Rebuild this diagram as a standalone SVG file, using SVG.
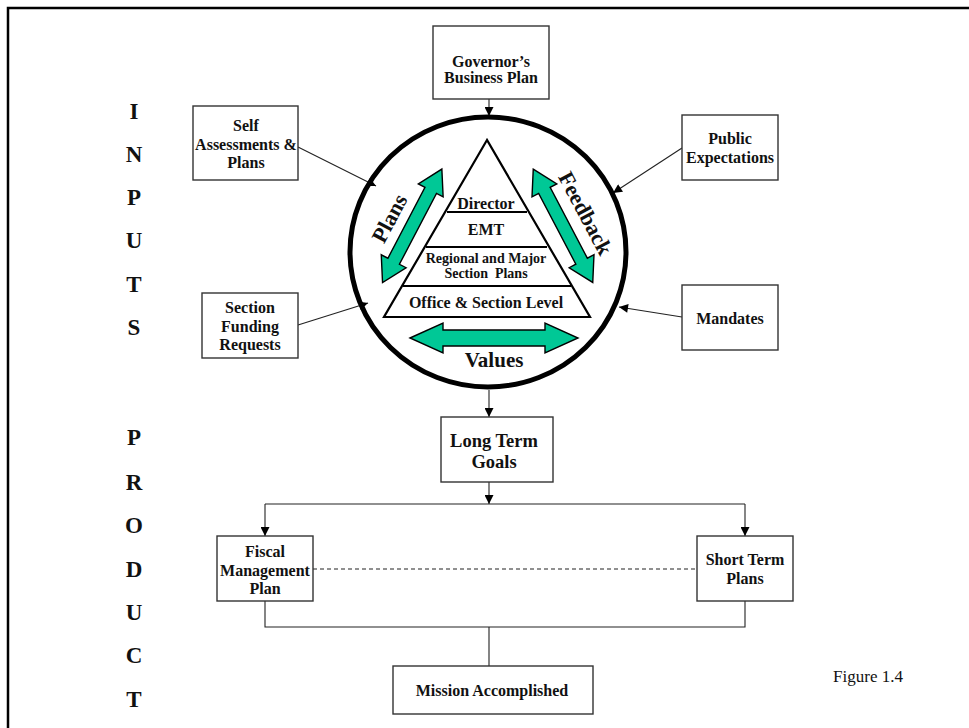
<svg xmlns="http://www.w3.org/2000/svg" width="969" height="728" viewBox="0 0 969 728">
  <style>
    .box { fill: #fff; stroke: #333; stroke-width: 1.4; }
    .t { font-family: "Liberation Serif", "Times New Roman", serif; font-weight: bold; fill: #111; text-anchor: middle; }
    .t16 { font-size: 16px; }
    .t14 { font-size: 14px; }
    .big { font-size: 22px; }
    .side { font-family: "Liberation Serif", "Times New Roman", serif; font-weight: bold; font-size: 23px; fill: #111; text-anchor: middle; }
    .con { fill: none; stroke: #222; stroke-width: 1.1; }
    .tier { stroke: #000; stroke-width: 2.2; }
    .green { fill: #00C896; stroke: #000; stroke-width: 1.4; stroke-linejoin: miter; }
  </style>
  <defs>
    <marker id="ah" viewBox="0 0 10 10" refX="10" refY="5" markerWidth="10" markerHeight="9" markerUnits="userSpaceOnUse" orient="auto">
      <path d="M0,0 L10,5 L0,10 z" fill="#000"/>
    </marker>
    <path id="dbl" d="M-64,0 L-40,-14 L-40,-6.5 L40,-6.5 L40,-14 L64,0 L40,14 L40,6.5 L-40,6.5 L-40,14 Z"/>
    <path id="dblWide" d="M-84,0 L-51,-15 L-51,-8 L51,-8 L51,-15 L84,0 L51,15 L51,8 L-51,8 L-51,15 Z"/>
  </defs>

  <rect width="969" height="728" fill="#fff"/>

  <!-- page frame, open to the right and bottom -->
  <path d="M8,730 L8,8 L971,8" fill="none" stroke="#000" stroke-width="2.5"/>

  <!-- side captions -->
  <g id="inputs-label" class="side">
    <text x="134" y="119">I</text>
    <text x="134" y="162">N</text>
    <text x="134" y="205">P</text>
    <text x="134" y="248">U</text>
    <text x="134" y="292">T</text>
    <text x="134" y="335">S</text>
  </g>
  <g id="product-label" class="side">
    <text x="134" y="445">P</text>
    <text x="134" y="490">R</text>
    <text x="134" y="533">O</text>
    <text x="134" y="577">D</text>
    <text x="134" y="620">U</text>
    <text x="134" y="663">C</text>
    <text x="134" y="707">T</text>
  </g>

  <!-- connectors -->
  <g id="connectors">
    <line class="con" x1="489" y1="99" x2="489" y2="116" marker-end="url(#ah)"/>
    <line class="con" x1="298" y1="147" x2="376" y2="186" marker-end="url(#ah)"/>
    <line class="con" x1="682" y1="148" x2="613" y2="193" marker-end="url(#ah)"/>
    <line class="con" x1="298" y1="325" x2="368" y2="303" marker-end="url(#ah)"/>
    <line class="con" x1="682" y1="317" x2="619" y2="307" marker-end="url(#ah)"/>
    <line class="con" x1="489" y1="390" x2="489" y2="417" marker-end="url(#ah)"/>
    <line class="con" x1="489" y1="482" x2="489" y2="504" marker-end="url(#ah)"/>
    <line class="con" x1="265" y1="504" x2="745" y2="504"/>
    <line class="con" x1="265" y1="504" x2="265" y2="536" marker-end="url(#ah)"/>
    <line class="con" x1="745" y1="504" x2="745" y2="536" marker-end="url(#ah)"/>
    <line class="con" x1="313" y1="569" x2="697" y2="569" stroke-dasharray="4 3" stroke="#555"/>
    <path class="con" d="M265,601 L265,627 L745,627 L745,601 M489,627 L489,666"/>
  </g>

  <!-- central planning cycle -->
  <g id="cycle">
    <ellipse cx="488" cy="252" rx="138" ry="135" fill="none" stroke="#000" stroke-width="5"/>
    <path d="M487,140 L384,317 L590,317 Z" fill="#fff" stroke="#000" stroke-width="2.2"/>
    <line class="tier" x1="447" y1="212" x2="527" y2="212"/>
    <line class="tier" x1="426" y1="247" x2="547" y2="247"/>
    <line class="tier" x1="403" y1="286" x2="571" y2="286"/>
    <text class="t t16" x="486" y="209">Director</text>
    <text class="t t16" x="486" y="235">EMT</text>
    <text class="t t14" x="486" y="263">Regional and Major</text>
    <text class="t t14" x="486" y="278" xml:space="preserve">Section  Plans</text>
    <text class="t t16" x="486" y="308">Office &amp; Section Level</text>
    <use href="#dbl" class="green" transform="translate(412.2,225.8) rotate(-62.4)"/>
    <use href="#dbl" class="green" transform="translate(563,225.8) rotate(62.3)"/>
    <use href="#dblWide" class="green" transform="translate(494,338)"/>
    <text class="t big" transform="translate(389,218) rotate(-62)" y="8">Plans</text>
    <text class="t big" transform="translate(586,213) rotate(62)" y="8">Feedback</text>
    <text class="t" x="494" y="367" font-size="21">Values</text>
  </g>

  <!-- input boxes -->
  <g id="governor">
    <rect class="box" x="433" y="26" width="116" height="73"/>
    <text class="t t16" x="491" y="67">Governor’s</text>
    <text class="t t16" x="491" y="83">Business Plan</text>
  </g>
  <g id="self-assessments">
    <rect class="box" x="193" y="106" width="105" height="74"/>
    <text class="t t16" x="246" y="131">Self</text>
    <text class="t t16" x="246" y="150">Assessments &amp;</text>
    <text class="t t16" x="246" y="168">Plans</text>
  </g>
  <g id="public-expectations">
    <rect class="box" x="682" y="115" width="96" height="65"/>
    <text class="t t16" x="730" y="144">Public</text>
    <text class="t t16" x="730" y="163">Expectations</text>
  </g>
  <g id="section-funding">
    <rect class="box" x="202" y="293" width="96" height="65"/>
    <text class="t t16" x="250" y="313">Section</text>
    <text class="t t16" x="250" y="332">Funding</text>
    <text class="t t16" x="250" y="350">Requests</text>
  </g>
  <g id="mandates">
    <rect class="box" x="682" y="285" width="96" height="65"/>
    <text class="t t16" x="730" y="324">Mandates</text>
  </g>

  <!-- product boxes -->
  <g id="long-term-goals">
    <rect class="box" x="441" y="417" width="112" height="65"/>
    <text class="t" x="494" y="447" font-size="18.5">Long Term</text>
    <text class="t" x="494" y="468" font-size="18.5">Goals</text>
  </g>
  <g id="fiscal-plan">
    <rect class="box" x="217" y="536" width="96" height="65"/>
    <text class="t t16" x="265" y="557">Fiscal</text>
    <text class="t t16" x="265" y="576">Management</text>
    <text class="t t16" x="265" y="594">Plan</text>
  </g>
  <g id="short-term-plans">
    <rect class="box" x="697" y="536" width="96" height="65"/>
    <text class="t t16" x="745" y="565">Short Term</text>
    <text class="t t16" x="745" y="584">Plans</text>
  </g>
  <g id="mission">
    <rect class="box" x="393" y="666" width="200" height="48"/>
    <text class="t t16" x="492" y="696">Mission Accomplished</text>
  </g>

  <text x="868" y="682" font-family="'Liberation Serif', 'Times New Roman', serif" font-size="17" fill="#111" text-anchor="middle">Figure 1.4</text>
</svg>
